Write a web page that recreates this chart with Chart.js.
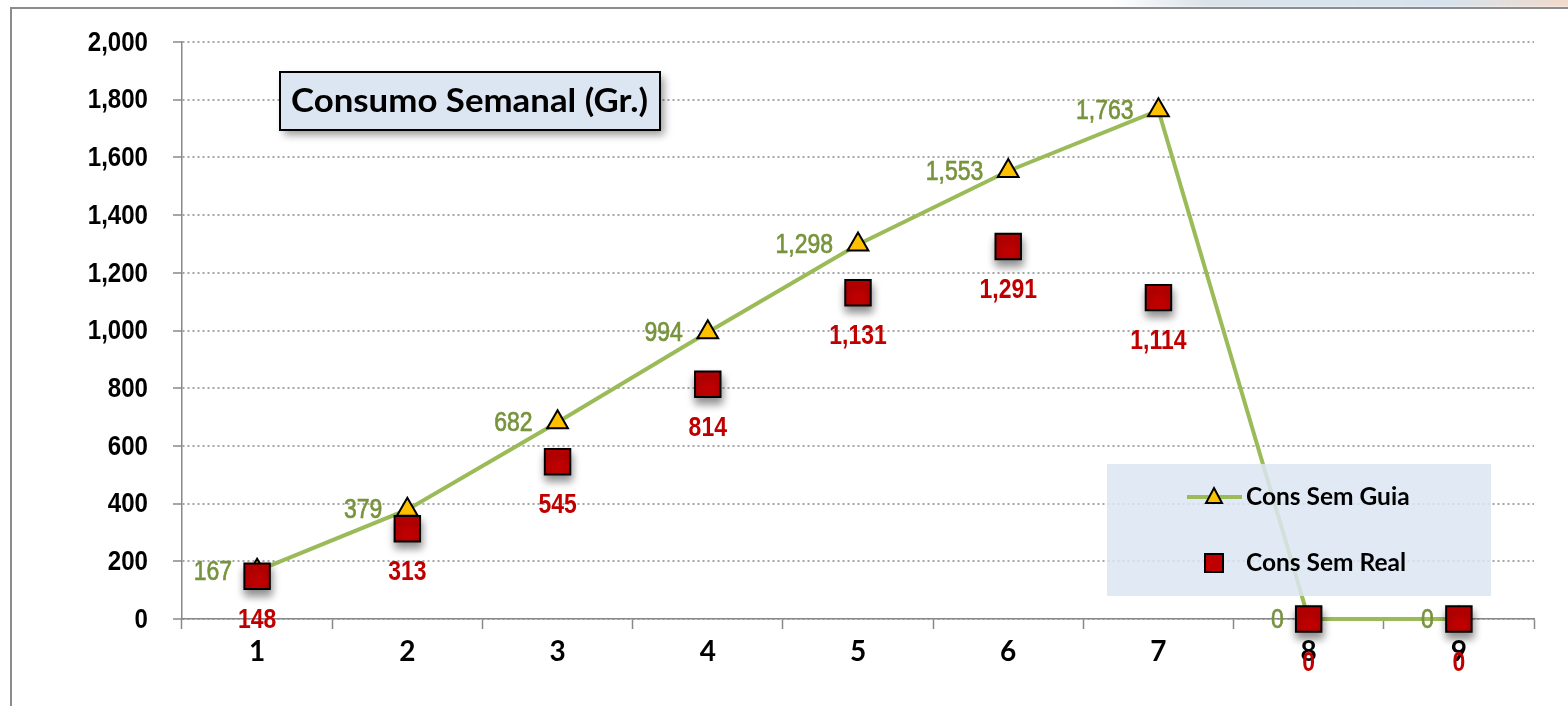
<!DOCTYPE html>
<html><head><meta charset="utf-8">
<script src="https://cdn.jsdelivr.net/npm/chart.js@4.4.1/dist/chart.umd.min.js"></script>
<style>
html,body{margin:0;padding:0;background:#fff;}
#wrap{position:relative;width:1568px;height:706px;overflow:hidden;}
#frame{position:absolute;left:10px;top:7px;width:1600px;height:800px;border-left:2px solid #8c8c8c;border-top:2px solid #8c8c8c;}
#deco{position:absolute;left:1110px;top:-4px;width:470px;height:11px;background:linear-gradient(90deg,rgba(220,226,232,0),#dbe3ea 20%,#d6e3ee 70%,#f3d9c8);filter:blur(1px);}
canvas{position:absolute;left:0;top:0;}
</style></head>
<body><div id="wrap"><div id="deco"></div><div id="frame"></div><canvas id="c" width="1568" height="706"></canvas></div>
<script>
const categories = ['1','2','3','4','5','6','7','8','9'];
const guia = [167,379,682,994,1298,1553,1763,0,0];
const real = [148,313,545,814,1131,1291,1114,0,0];
const yTicks = [0,200,400,600,800,1000,1200,1400,1600,1800,2000];
const titleText = 'Consumo Semanal (Gr.)';
const seriesNames = ['Cons Sem Guia','Cons Sem Real'];

const SANS = '"Liberation Sans",Arial,sans-serif';
const CAL = 'Lato,"Open Sans",sans-serif';
const fmt = v => v.toLocaleString('en-US');

function narrow(c,text,x,y,align,sx,stroke){
  c.save(); c.translate(x,y); c.scale(sx,1); c.textAlign=align;
  if(stroke){c.lineWidth=stroke;c.strokeStyle=c.fillStyle;c.strokeText(text,0,0);}
  c.fillText(text,0,0); c.restore();
}

const overlay = {
  id:'overlay',
  beforeDatasetDraw(chart,args){
    if(args.index===1){const c=chart.ctx;c.save();c.shadowColor='rgba(0,0,0,0.45)';c.shadowBlur=8;c.shadowOffsetX=1;c.shadowOffsetY=6;}
  },
  afterDatasetDraw(chart,args){ if(args.index===1) chart.ctx.restore(); },
  afterDraw(chart){
    const c=chart.ctx, ys=chart.scales.y;
    c.save();
    c.font='bold 28px '+SANS; c.fillStyle='#000'; c.textBaseline='middle';
    ys.ticks.forEach(t=>{ narrow(c,fmt(t.value),148,ys.getPixelForValue(t.value)+1,'right',0.86); });
    const m0=chart.getDatasetMeta(0), m1=chart.getDatasetMeta(1);
    c.font='28px '+SANS; c.fillStyle='#77933C';
    m0.data.forEach((p,i)=>{ narrow(c,fmt(guia[i]),p.x-25,p.y+1,'right',0.82,0.7); });
    c.font='bold 28px '+SANS; c.fillStyle='#C00000';
    m1.data.forEach((p,i)=>{ narrow(c,fmt(real[i]),p.x,p.y+44,'center',0.82); });
    const tx=280,ty=72,tw=380,th=58;
    c.save(); c.shadowColor='rgba(0,0,0,0.4)'; c.shadowBlur=8; c.shadowOffsetX=4; c.shadowOffsetY=5;
    c.fillStyle='#DCE6F2'; c.fillRect(tx,ty,tw,th); c.restore();
    c.lineWidth=2; c.strokeStyle='#000'; c.strokeRect(tx,ty,tw,th);
    c.font='bold 32px '+CAL; c.fillStyle='#000'; c.textBaseline='middle';
    const w=c.measureText(titleText).width;
    c.save(); c.translate(291,ty+th/2+1); c.scale(357/w,1); c.textAlign='left'; c.fillText(titleText,0,0); c.restore();
    c.fillStyle='rgba(220,230,242,0.85)'; c.fillRect(1107,464,384,132);
    c.strokeStyle='#9BBB59'; c.lineWidth=4; c.beginPath(); c.moveTo(1187,497); c.lineTo(1242,497); c.stroke();
    c.beginPath(); c.moveTo(1214,488); c.lineTo(1222,503); c.lineTo(1206,503); c.closePath();
    c.fillStyle='#FFC000'; c.fill(); c.lineWidth=2; c.strokeStyle='#000'; c.stroke();
    c.fillStyle='#C00000'; c.fillRect(1205,554,18,18); c.strokeRect(1205,554,18,18);
    c.font='bold 24.5px '+CAL; c.fillStyle='#000'; c.textAlign='left';
    c.fillText(seriesNames[0],1246,497); c.fillText(seriesNames[1],1246,563);
    c.restore();
  }
};

new Chart(document.getElementById('c'),{
  type:'line',
  data:{labels:categories,datasets:[
    {label:seriesNames[0],data:guia,clip:false,borderColor:'#9BBB59',borderWidth:4,tension:0,pointStyle:'triangle',pointRadius:12,pointBackgroundColor:'#FFC000',pointBorderColor:'#000',pointBorderWidth:2,order:2},
    {label:seriesNames[1],data:real,clip:false,showLine:false,pointStyle:'rect',pointRadius:18,pointBackgroundColor:'#C00000',pointBorderColor:'#000',pointBorderWidth:2,order:1}
  ]},
  options:{
    responsive:false,animation:false,
    layout:{padding:{left:10,right:34,top:42,bottom:0}},
    plugins:{legend:{display:false},tooltip:{enabled:false}},
    scales:{
      x:{offset:true,
        grid:{offset:true,drawOnChartArea:false,drawTicks:true,tickLength:10,tickColor:'#888',tickWidth:1.5},
        border:{color:'#888',width:1.5},
        ticks:{font:{family:CAL,size:28,weight:'bold'},color:'#000',padding:6},
        afterFit(s){s.height=87;}
      },
      y:{min:0,max:2000,
        afterBuildTicks(s){s.ticks=yTicks.map(v=>({value:v}));},
        grid:{color:'#a6a6a6',lineWidth:2,tickBorderDash:[],tickColor:'#888',tickLength:9,tickWidth:1.5},
        border:{color:'#888',width:1.5,dash:[2,3]},
        ticks:{display:false},
        afterFit(s){s.width=172;}
      }
    }
  },
  plugins:[overlay]
});
</script></body></html>
